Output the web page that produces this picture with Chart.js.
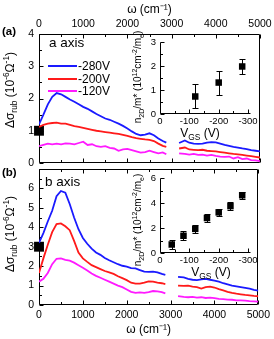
<!DOCTYPE html>
<html><head><meta charset="utf-8">
<script src="https://cdn.jsdelivr.net/npm/chart.js@4.4.1/dist/chart.umd.min.js"></script>
<style>
html,body{margin:0;padding:0;background:#fff;}
#wrap{position:relative;width:274px;height:339px;overflow:hidden;font-family:"Liberation Sans",Arial,Helvetica,sans-serif;color:#000;}
#wrap canvas{position:absolute;left:0;top:0;}
.t{position:absolute;white-space:nowrap;line-height:1;}
.rot{transform:translate(-50%,-50%) rotate(-90deg);}
.c{transform:translate(-50%,-50%);}
.l{transform:translate(0,-50%);}
sub,sup{font-size:70%;line-height:0;}
.ln{position:absolute;height:2px;}
</style></head><body>
<div id="wrap">
 <canvas id="mainA" width="274" height="339"></canvas>
 <canvas id="mainB" width="274" height="339"></canvas>
 <canvas id="insA" width="274" height="339"></canvas>
 <canvas id="insB" width="274" height="339"></canvas>
 <div class="t l" style="left:2px;top:32px;font-weight:bold;font-size:11.5px">(a)</div>
 <div class="t l" style="left:2px;top:173px;font-weight:bold;font-size:11.5px">(b)</div>
 <div class="t rot" style="left:10px;top:90px;font-size:12px">Δσ<sub>rub</sub> (10<sup>-6</sup>Ω<sup>-1</sup>)</div>
 <div class="t rot" style="left:10px;top:234px;font-size:12px">Δσ<sub>rub</sub> (10<sup>-6</sup>Ω<sup>-1</sup>)</div>
 <div class="t l" style="left:49px;top:43px;font-size:13.5px">a axis</div>
 <div class="t l" style="left:45px;top:182px;font-size:13.5px">b axis</div>
 <div id="legend"></div>
 <div class="t rot" style="left:138px;top:77px;font-size:10px">n<sub>2D</sub>/m* (10<sup>12</sup>cm<sup>-2</sup>/m<sub>e</sub>)</div>
 <div class="t rot" style="left:138px;top:220px;font-size:10px">n<sub>2D</sub>/m* (10<sup>12</sup>cm<sup>-2</sup>/m<sub>e</sub>)</div>
 <div class="t c" style="left:200px;top:133px;font-size:12px">V<sub>GS</sub> (V)</div>
 <div class="t c" style="left:211px;top:272px;font-size:12px">V<sub>GS</sub> (V)</div>
</div>
<script>
// ---- data ----
const wavenumber = [0,100,200,300,400,500,600,700,800,900,1000,1100,1200,1300,1400,1500,1600,1700,1800,1900,2000,2100,2200,2300,2400,2500,2600,2700,2800,2880,3000,3170,3300,3400,3500,3600,3700,3800,3900,4000,4100,4200,4300,4400,4500,4600,4700,4800,4900,5000];
const seriesLabels = ['-280V','-200V','-120V'];
// panel (a): a axis
const a280 = [1.2,1.5,1.82,2.05,2.17,2.13,2.05,1.97,1.9,1.82,1.74,1.68,1.6,1.52,1.45,1.38,1.34,1.28,1.22,1.15,1.07,0.98,0.9,0.86,0.88,0.92,0.86,0.76,0.68,0.63,null,0.62,0.7,0.63,0.6,0.59,0.6,0.63,0.65,0.64,0.6,0.56,0.53,0.5,0.48,0.45,0.43,0.4,0.38,0.36];
const a200 = [1.12,1.18,1.22,1.24,1.25,1.22,1.22,1.18,1.14,1.12,1.09,1.06,1.03,1.0,0.98,0.96,0.94,0.92,0.9,0.87,0.84,0.8,0.77,0.75,0.73,0.72,0.68,0.6,0.53,0.5,null,0.45,0.48,0.42,0.41,0.4,0.41,0.38,0.37,0.36,0.34,0.32,0.3,0.28,0.27,0.25,0.23,0.21,0.19,0.17];
const a120 = [0.52,0.56,0.6,0.58,0.6,0.58,0.61,0.6,0.58,0.62,0.66,0.56,0.58,0.52,0.5,0.52,0.47,0.45,0.38,0.42,0.44,0.4,0.36,0.32,0.34,0.38,0.34,0.3,0.33,0.27,null,0.3,0.28,0.26,0.28,0.25,0.26,0.23,0.25,0.22,0.2,0.19,0.2,0.14,0.18,0.12,0.14,0.09,0.08,0.06];
// panel (b): b axis
const b280 = [3.2,3.7,4.3,4.85,5.6,5.87,5.78,5.2,4.5,3.9,3.45,3.15,2.9,2.7,2.58,2.42,2.3,2.2,2.1,2.02,1.98,1.9,1.88,1.8,1.72,1.7,1.72,1.68,1.6,1.55,null,1.45,1.42,1.35,1.3,1.28,1.32,1.34,1.3,1.26,1.2,1.12,1.06,1.0,0.96,0.92,0.88,0.84,0.78,0.74];
const b200 = [1.65,2.4,3.1,3.75,4.17,4.2,4.05,3.85,3.3,2.7,2.4,2.22,2.05,1.95,1.85,1.75,1.68,1.6,1.48,1.38,1.28,1.15,1.1,1.1,1.15,1.22,1.2,1.15,1.12,1.08,null,1.0,0.98,1.0,0.95,0.92,0.85,0.92,0.95,0.9,0.82,0.75,0.68,0.62,0.58,0.55,0.52,0.5,0.47,0.45];
const b120 = [1.2,1.35,1.65,2.1,2.38,2.4,2.32,2.28,2.18,2.05,1.92,1.78,1.62,1.5,1.4,1.3,1.2,1.1,1.0,0.92,0.8,0.68,0.62,0.65,0.62,0.66,0.72,0.7,0.66,0.6,null,0.46,0.42,0.4,0.42,0.38,0.4,0.36,0.38,0.35,0.32,0.3,0.28,0.27,0.24,0.24,0.22,0.2,0.19,0.17];
// DC values (black squares at omega = 0)
const dcA = [1.0];
const dcB = [3.0];
// insets: n2D/m* vs V_GS
const vgsA = [-120,-200,-280];
const nA = [0.73,1.31,1.98];
const nAErr = [0.5,0.5,0.3];
const vgsB = [-40,-80,-120,-160,-200,-240,-280];
const nB = [0.68,1.38,1.93,2.8,3.25,3.75,4.62];
const nBErr = [0.38,0.35,0.35,0.35,0.3,0.3,0.3];
// tick labels
const mainXTicks = [0,1000,2000,3000,4000,5000];
const insetXTicks = [0,-100,-200,-300];
const xTitle = 'ω (cm⁻¹)';

// ---- drawing ----
const COLORS = ['#1a1aff','#ff1a1a','#ff1aff'];
const FONT = '"Liberation Sans", Arial, sans-serif';
Chart.defaults.font.family = FONT;
Chart.defaults.color = '#000';

function pts(xs, ys){ return xs.map((x,i)=>({x:x, y:ys[i]})); }

let uid = 0;
function framePlugin(cfg){
  return { id:'frame'+(uid++),
  beforeDatasetsDraw(chart){
    const ctx = chart.ctx, a = chart.chartArea, x = chart.scales.x, y = chart.scales.y;
    ctx.save(); ctx.strokeStyle='#000'; ctx.lineWidth=1;
    const L=Math.round(a.left)+0.5, R=Math.round(a.right)-0.5, T=Math.round(a.top)+0.5, B=Math.round(a.bottom)-0.5;
    ctx.beginPath();
    if(cfg.box){ ctx.rect(L,T,R-L,B-T); } else { ctx.moveTo(L,T); ctx.lineTo(L,B); ctx.lineTo(R,B); }
    const xlo=Math.min(x.min,x.max), xhi=Math.max(x.min,x.max);
    for(let v=Math.ceil(xlo/cfg.xStep)*cfg.xStep; v<=xhi; v+=cfg.xStep){
      const px=Math.round(x.getPixelForValue(v))+0.5;
      const len = (Math.abs(v) % (cfg.xStep*2)===0) ? 4 : 2.5;
      ctx.moveTo(px,B); ctx.lineTo(px,B-len);
      if(cfg.box){ ctx.moveTo(px,T); ctx.lineTo(px,T+len); }
    }
    for(let v=0; v<=y.max+1e-9; v+=cfg.yStep){
      const py=Math.round(y.getPixelForValue(v))+0.5;
      const len = (Math.abs(Math.round(v/cfg.yStep)) % 2===0) ? 4 : 2.5;
      ctx.moveTo(L,py); ctx.lineTo(L+len,py);
    }
    ctx.stroke();
    if(cfg.topLabels){
      // top axis tick labels and title, placed from the x scale
      ctx.fillStyle='#000'; ctx.textAlign='center'; ctx.textBaseline='middle';
      ctx.font='10.5px '+FONT;
      x.ticks.forEach(t=>{ ctx.fillText(String(t.value), x.getPixelForValue(t.value), a.top-9.5); });
      ctx.font='12px '+FONT;
      ctx.fillText(cfg.topTitle, (a.left+a.right)/2, a.top-24);
    }
    ctx.restore();
  }};
}
function errPlugin(xs, ys, es){
  return { id:'err'+(uid++), afterDatasetsDraw(chart){
    const ctx = chart.ctx, x = chart.scales.x, y = chart.scales.y;
    ctx.save(); ctx.strokeStyle='#000'; ctx.lineWidth=1; ctx.beginPath();
    xs.forEach((v,i)=>{
      const px=Math.round(x.getPixelForValue(v))+0.5;
      const t=Math.round(y.getPixelForValue(ys[i]+es[i]))+0.5, b=Math.round(y.getPixelForValue(ys[i]-es[i]))+0.5;
      ctx.moveTo(px,t); ctx.lineTo(px,b);
      ctx.moveTo(px-3,t); ctx.lineTo(px+3,t);
      ctx.moveTo(px-3,b); ctx.lineTo(px+3,b);
    });
    ctx.stroke(); ctx.restore();
  }};
}

const noGrid = {display:false, drawTicks:false, tickLength:0};
const fixedTicks = list => (s => { s.ticks = list.map(v=>({value:v})); });

function mainChart(id, pad, top, yMax, yMinor, series, dc){
  const ds = series.map((s,i)=>({data:pts(wavenumber,s), borderColor:COLORS[i], borderWidth:1.8, pointRadius:0, spanGaps:false, fill:false, tension:0}));
  ds.push({data:[{x:0,y:dc[0]}], showLine:false, pointStyle:'rect', pointRadius:7, pointBackgroundColor:'#000', backgroundColor:'#000', pointBorderWidth:0, borderWidth:0, clip:false});
  return new Chart(document.getElementById(id), {
    type:'line',
    data:{datasets:ds},
    options:{
      responsive:false, animation:false, events:[],
      layout:{padding:pad},
      plugins:{legend:{display:false}, tooltip:{enabled:false}},
      scales:{
        x:{type:'linear', position:'bottom', min:0, max:5000, grid:noGrid, border:{display:false},
           ticks:{display:!top, padding:4, font:{size:10.5}, autoSkip:false, maxRotation:0, callback:v=>String(v)},
           afterBuildTicks:fixedTicks(mainXTicks),
           title:{display:!top, text:xTitle, font:{size:12}, padding:{top:0,bottom:2}},
           afterFit:s=>{s.height=top?0:34;}},
        y:{type:'linear', min:0, max:yMax, grid:noGrid, border:{display:false},
           ticks:{stepSize:1, padding:5, font:{size:10.5}, autoSkip:false, callback:v=>(v>6?'':String(v))},
           afterFit:s=>{s.width=39;}}
      }
    },
    plugins:[framePlugin({box:true, xStep:500, yStep:yMinor, topLabels:top, topTitle:xTitle})]
  });
}

function insetChart(id, pad, yMax, yStep, yMinor, vgs, n, err){
  return new Chart(document.getElementById(id), {
    type:'scatter',
    data:{datasets:[{data:pts(vgs,n), pointStyle:'rect', pointRadius:4.6, pointBackgroundColor:'#000', backgroundColor:'#000', pointBorderWidth:0, borderWidth:0}]},
    options:{
      responsive:false, animation:false, events:[],
      layout:{padding:pad},
      plugins:{legend:{display:false}, tooltip:{enabled:false}},
      scales:{
        x:{type:'linear', min:-310, max:0, reverse:true, grid:noGrid, border:{display:false},
           ticks:{padding:2, font:{size:9.5}, autoSkip:false, maxRotation:0, callback:v=>String(v)},
           afterBuildTicks:fixedTicks(insetXTicks),
           afterFit:s=>{s.height=14;}},
        y:{type:'linear', min:0, max:yMax, grid:noGrid, border:{display:false},
           ticks:{stepSize:yStep, padding:4, font:{size:9.5}, autoSkip:false, callback:v=>String(v)},
           afterFit:s=>{s.width=160;}}
      }
    },
    plugins:[framePlugin({box:false, xStep:50, yStep:yMinor}), errPlugin(vgs,n,err)]
  });
}

mainChart('mainA', {left:0,top:34,right:14,bottom:176}, true, 4, 0.5, [a280,a200,a120], dcA);
mainChart('mainB', {left:0,top:169,right:14,bottom:0}, false, 7, 0.5, [b280,b200,b120], dcB);
insetChart('insA', {left:0,top:42,right:23,bottom:339-114-14}, 3, 1, 0.5, vgsA, nA, nAErr);
insetChart('insB', {left:0,top:178,right:23,bottom:339-253-14}, 6, 2, 1, vgsB, nB, nBErr);

// legend (panel a)
const leg = document.getElementById('legend');
const legY = [66,79,91];
seriesLabels.forEach((lab,i)=>{
  const ln = document.createElement('div'); ln.className='ln';
  ln.style.cssText = 'left:48px;width:29px;top:'+(legY[i]-1)+'px;background:'+COLORS[i];
  leg.appendChild(ln);
  const tx = document.createElement('div'); tx.className='t l';
  tx.style.cssText = 'left:78px;top:'+legY[i]+'px;font-size:12px';
  tx.textContent = lab;
  leg.appendChild(tx);
});
</script>
</body></html>
